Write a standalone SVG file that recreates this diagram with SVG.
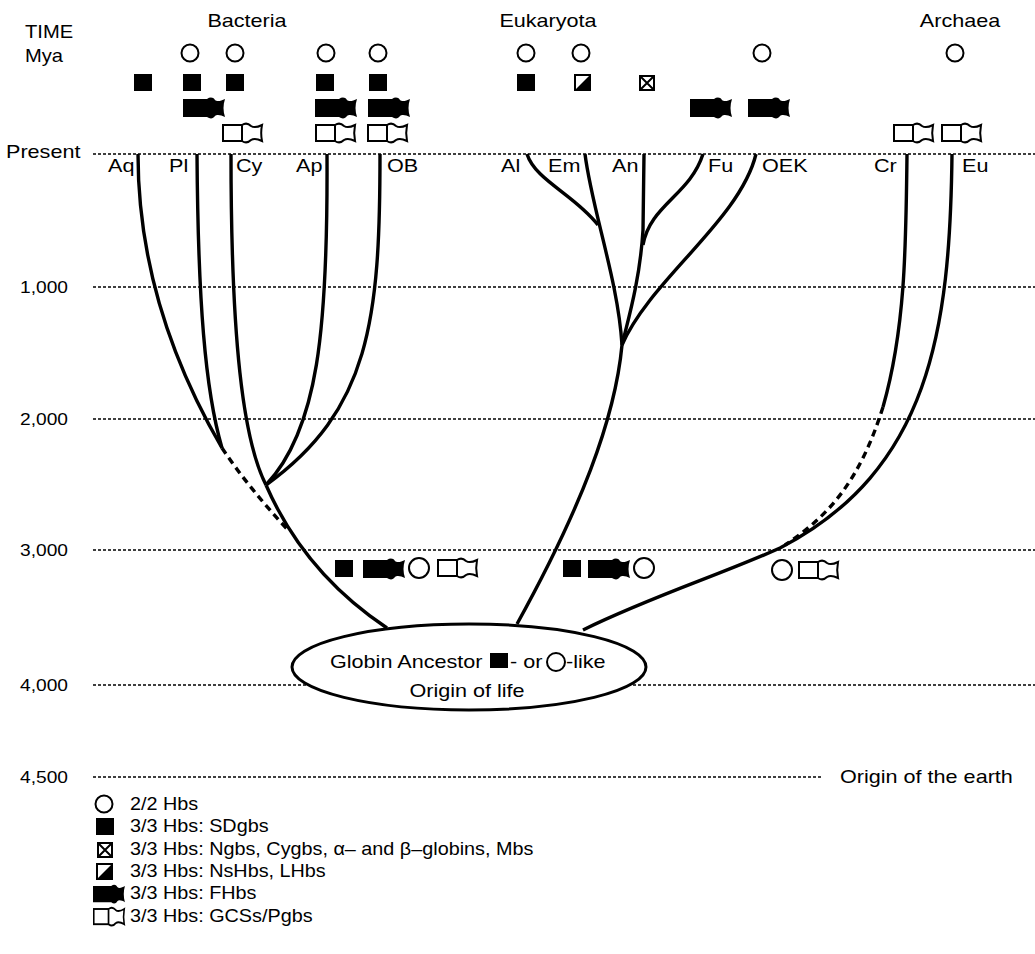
<svg xmlns="http://www.w3.org/2000/svg" xmlns:xlink="http://www.w3.org/1999/xlink" width="1035" height="954" viewBox="0 0 1035 954">
<style>
.t{font-family:"Liberation Sans",Arial,sans-serif;font-size:18px;fill:#000}
.s{font-size:17px}
.m{text-anchor:middle}
.grid{stroke:#000;stroke-width:1.4;stroke-dasharray:3 2;fill:none}
.br{fill:none;stroke:#000;stroke-width:3.4}
.dsh{stroke-dasharray:7 5}
.ol{fill:#fff;stroke:#000;stroke-width:2}
</style>
<defs>
<circle id="circ" r="8.5" class="ol"/>
<rect id="sq" width="18" height="17" fill="#000"/>
<g id="xbox"><rect x="1" y="1" width="14" height="14" class="ol"/><path d="M1,1 L15,15 M15,1 L1,15" stroke="#000" stroke-width="2"/></g>
<g id="half"><rect x="1" y="1" width="15" height="15" class="ol"/><path d="M1,16 L16,1 L16,16 Z" fill="#000"/></g>
<path id="fh" d="M0,0 H24 C27,-2 30,-2 32,1 C34,3 38,2 42,0 C40,6 40,12 42,18 C38,16 34,15 32,17 C30,20 27,20 24,18 H0 Z" fill="#000"/>
<g id="gcs"><rect x="1" y="0" width="19" height="16" class="ol"/><path d="M20,0 C23,-2 26,-2 29,1 C32,3 36,2 40,0 C39,5 39,11 40,16 C36,14 32,13 29,15 C26,18 23,18 20,16 Z" class="ol"/></g>
</defs>

<g id="grid">
<line class="grid" x1="93" y1="154" x2="1035" y2="154"/>
<line class="grid" x1="93" y1="287" x2="1035" y2="287"/>
<line class="grid" x1="93" y1="419" x2="1035" y2="419"/>
<line class="grid" x1="93" y1="550" x2="1035" y2="550"/>
<line class="grid" x1="93" y1="685" x2="1035" y2="685"/>
<line class="grid" x1="93" y1="777" x2="822" y2="777"/>
</g>

<g id="axis-labels">
<text class="t" transform="translate(25,38) scale(1.12,1)">TIME</text>
<text class="t" transform="translate(25,62) scale(1.12,1)">Mya</text>
<text class="t" transform="translate(6,158) scale(1.2,1)">Present</text>
<text class="t s" transform="translate(20,293) scale(1.13,1)">1,000</text>
<text class="t s" transform="translate(20,425) scale(1.13,1)">2,000</text>
<text class="t s" transform="translate(20,556) scale(1.13,1)">3,000</text>
<text class="t s" transform="translate(20,691) scale(1.13,1)">4,000</text>
<text class="t s" transform="translate(20,783) scale(1.13,1)">4,500</text>
<text class="t" transform="translate(840,783) scale(1.2,1)">Origin of the earth</text>
</g>

<g id="domains">
<text class="t m" transform="translate(247,27) scale(1.2,1)">Bacteria</text>
<text class="t m" transform="translate(548,27) scale(1.2,1)">Eukaryota</text>
<text class="t m" transform="translate(960,27) scale(1.2,1)">Archaea</text>
</g>

<g id="leaf-labels">
<text class="t" transform="translate(108,172) scale(1.2,1)">Aq</text>
<text class="t" transform="translate(169,172) scale(1.2,1)">Pl</text>
<text class="t" transform="translate(236,172) scale(1.2,1)">Cy</text>
<text class="t" transform="translate(296,172) scale(1.2,1)">Ap</text>
<text class="t" transform="translate(387,172) scale(1.2,1)">OB</text>
<text class="t" transform="translate(501,172) scale(1.2,1)">Al</text>
<text class="t" transform="translate(548,172) scale(1.2,1)">Em</text>
<text class="t" transform="translate(612,172) scale(1.2,1)">An</text>
<text class="t" transform="translate(708,172) scale(1.2,1)">Fu</text>
<text class="t" transform="translate(762,172) scale(1.2,1)">OEK</text>
<text class="t" transform="translate(874,172) scale(1.2,1)">Cr</text>
<text class="t" transform="translate(962,172) scale(1.2,1)">Eu</text>
</g>

<g id="top-symbols">
<use href="#circ" x="190" y="53"/>
<use href="#circ" x="235" y="53"/>
<use href="#circ" x="326" y="53"/>
<use href="#circ" x="378" y="53"/>
<use href="#circ" x="526" y="53"/>
<use href="#circ" x="581" y="53"/>
<use href="#circ" x="762" y="53"/>
<use href="#circ" x="955" y="53"/>
<use href="#sq" x="134" y="74"/>
<use href="#sq" x="183" y="74"/>
<use href="#sq" x="226" y="74"/>
<use href="#sq" x="316" y="74"/>
<use href="#sq" x="369" y="74"/>
<use href="#sq" x="517" y="74"/>
<use href="#half" x="574" y="74"/>
<use href="#xbox" x="639" y="75"/>
<use href="#fh" x="183" y="99"/>
<use href="#fh" x="315" y="99"/>
<use href="#fh" x="368" y="99"/>
<use href="#fh" x="690" y="99"/>
<use href="#fh" x="748" y="99"/>
<use href="#gcs" x="222" y="125"/>
<use href="#gcs" x="315" y="125"/>
<use href="#gcs" x="367" y="125"/>
<use href="#gcs" x="893" y="125"/>
<use href="#gcs" x="941" y="125"/>
</g>

<g id="connectors">
<path class="br" d="M138,154 C138,250 165,350 222,448"/>
<path class="br" d="M197,154 C198,300 205,390 222,448"/>
<path class="br dsh" d="M222,448 C240,475 262,502 288,530"/>
<path class="br" d="M231,154 C231,340 243,440 266,485"/>
<path class="br" d="M327,154 C328,330 318,430 266,485"/>
<path class="br" d="M380,154 C380,320 370,410 266,485"/>
<path class="br" d="M266,485 C290,540 330,590 387,628"/>
<path class="br" d="M585,154 C592,210 618,280 622,345"/>
<path class="br" d="M527,154 C535,180 575,195 598,225"/>
<path class="br" d="M644,154 L643,230 C640,280 628,320 622,345"/>
<path class="br" d="M703,154 C690,195 650,205 643,245"/>
<path class="br" d="M756,154 C740,220 650,280 622,345"/>
<path class="br" d="M622,345 C615,420 580,510 517,624"/>
<path class="br" d="M907,154 C906,250 905,330 883,407"/>
<path class="br dsh" d="M883,407 C860,480 830,515 785,545"/>
<path class="br" d="M952,154 C950,330 930,470 780,548 C720,575 650,597 583,630"/>
</g>

<g id="mid-symbols">
<use href="#sq" x="335" y="560"/>
<use href="#fh" x="363" y="560"/>
<circle cx="419" cy="568" r="10" class="ol"/>
<use href="#gcs" x="437" y="560"/>
<use href="#sq" x="563" y="560"/>
<use href="#fh" x="588" y="560"/>
<circle cx="644" cy="568" r="10" class="ol"/>
<circle cx="782" cy="570" r="10" class="ol"/>
<use href="#gcs" x="798" y="562"/>
</g>

<g id="ancestor">
<ellipse cx="469" cy="667" rx="177" ry="43" fill="#fff" stroke="#000" stroke-width="3"/>
<text class="t" transform="translate(330,668) scale(1.2,1)">Globin Ancestor</text>
<rect x="490" y="653" width="18" height="15" fill="#000"/>
<text class="t" transform="translate(510,668) scale(1.2,1)">- or</text>
<circle cx="556" cy="662" r="9" class="ol"/>
<text class="t" transform="translate(566,668) scale(1.2,1)">-like</text>
<text class="t m" transform="translate(467,697) scale(1.2,1)">Origin of life</text>
</g>

<g id="legend">
<use href="#circ" x="104" y="804"/>
<text class="t" transform="translate(130,810) scale(1.1,1)">2/2 Hbs</text>
<use href="#sq" x="96" y="818"/>
<text class="t" transform="translate(130,832) scale(1.1,1)">3/3 Hbs: SDgbs</text>
<use href="#xbox" x="97" y="842"/>
<text class="t" transform="translate(130,855) scale(1.1,1)">3/3 Hbs: Ngbs, Cygbs, α– and β–globins, Mbs</text>
<use href="#half" x="96" y="863"/>
<text class="t" transform="translate(130,877) scale(1.1,1)">3/3 Hbs: NsHbs, LHbs</text>
<use href="#fh" transform="translate(93,886) scale(0.76,0.9)"/>
<text class="t" transform="translate(130,899) scale(1.1,1)">3/3 Hbs: FHbs</text>
<use href="#gcs" transform="translate(93,909) scale(0.78,0.95)"/>
<text class="t" transform="translate(130,922) scale(1.1,1)">3/3 Hbs: GCSs/Pgbs</text>
</g>
</svg>
